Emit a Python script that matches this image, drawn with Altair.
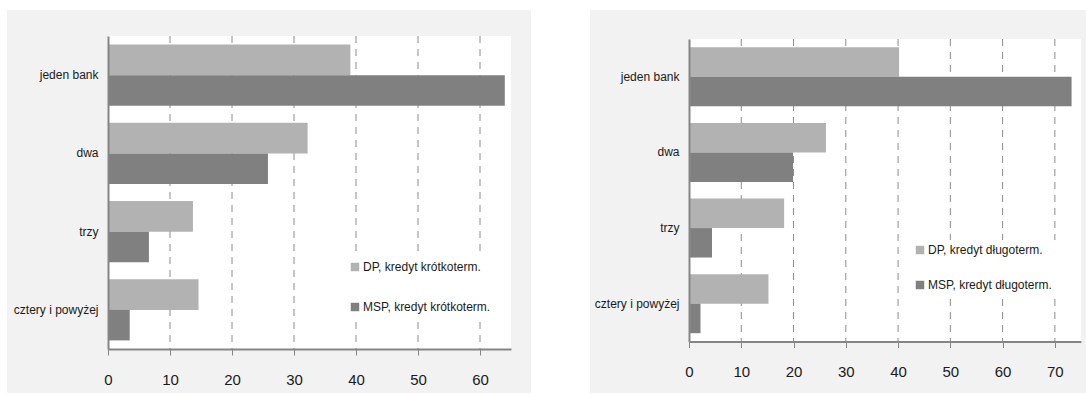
import altair as alt
import pandas as pd

categories = ["jeden bank", "dwa", "trzy", "cztery i powyżej"]

left_series = ["DP, kredyt krótkoterm.", "MSP, kredyt krótkoterm."]
left_dp = [39.1, 32.2, 13.7, 14.6]
left_msp = [64.0, 25.8, 6.6, 3.5]
left_ticks = [0, 10, 20, 30, 40, 50, 60]

right_series = ["DP, kredyt długoterm.", "MSP, kredyt długoterm."]
right_dp = [40.2, 26.2, 18.2, 15.2]
right_msp = [73.2, 19.9, 4.4, 2.2]
right_ticks = [0, 10, 20, 30, 40, 50, 60, 70]

colors = ["#b2b2b2", "#808080"]
FONT = "Liberation Sans, Arial, sans-serif"
TEXT = "#1a1a1a"
GRAY_BG = "#f2f2f2"
AXIS_GRAY = "#858585"


def panel(series, dp, msp, xmax, ticks, W, H, top, frame, legx, legy, rowpad):
    rows = []
    for c, a, b in zip(categories, dp, msp):
        rows.append({"category": c, "series": series[0], "value": a})
        rows.append({"category": c, "series": series[1], "value": b})
    df = pd.DataFrame(rows)

    xscale = alt.Scale(domain=[0, xmax], nice=False, zero=True)
    xaxis = alt.Axis(
        values=ticks,
        format="d",
        labelFont=FONT,
        labelFontSize=15,
        labelColor=TEXT,
        labelPadding=17,
        labelFlush=False,
        tickSize=6,
        tickColor=AXIS_GRAY,
        tickWidth=1,
        domainColor=AXIS_GRAY,
        domainWidth=2,
        grid=False,
        zindex=1,
    )

    bars = alt.Chart(df).mark_bar().encode(
        y=alt.Y(
            "category:N",
            sort=categories,
            title=None,
            scale=alt.Scale(paddingInner=0.22, paddingOuter=0.11, range=[top, H]),
            axis=alt.Axis(
                ticks=False,
                labelFont=FONT,
                labelFontSize=12,
                labelColor=TEXT,
                labelPadding=10,
                labelLimit=200,
                domainColor=AXIS_GRAY,
                domainWidth=2,
                grid=False,
                zindex=1,
            ),
        ),
        yOffset=alt.YOffset(
            "series:N", sort=series, scale=alt.Scale(paddingInner=0, paddingOuter=0)
        ),
        x=alt.X("value:Q", title=None, scale=xscale, axis=xaxis),
        color=alt.Color(
            "series:N",
            sort=series,
            scale=alt.Scale(domain=series, range=colors),
            legend=alt.Legend(
                title=None,
                orient="none",
                legendX=legx,
                legendY=legy,
                symbolType="square",
                symbolSize=72,
                symbolStrokeWidth=0,
                labelFont=FONT,
                labelFontSize=12,
                labelColor=TEXT,
                labelOffset=2,
                rowPadding=rowpad,
                fillColor="white",
                padding=4,
                labelLimit=300,
            ),
        ),
    )

    one = pd.DataFrame({"k": [0]})
    fx1, fx2, fy1, fy2 = frame
    gray = alt.Chart(one).mark_rect(color=GRAY_BG).encode(
        x=alt.value(fx1), x2=alt.value(fx2), y=alt.value(fy1), y2=alt.value(fy2)
    )
    white = alt.Chart(one).mark_rect(color="white").encode(
        x=alt.value(0), x2=alt.value(W), y=alt.value(top), y2=alt.value(H)
    )
    grid = alt.Chart(pd.DataFrame({"value": ticks[1:]})).mark_rule(
        color="#8c8c8c", strokeDash=[7, 6], strokeWidth=1
    ).encode(
        x=alt.X("value:Q", title=None, scale=xscale, axis=xaxis),
        y=alt.value(top),
        y2=alt.value(H),
    )
    return alt.layer(gray, white, grid, bars).properties(width=W, height=H)


# left panel plot area: x 108..511, y 36..349 ; gray frame x 7..531, y 10..393
left = panel(
    left_series, left_dp, left_msp, 65, left_ticks, 403, 313, 0,
    (-101, 423, -26, 357),
    237, 221, 28,
)

# right panel plot area: x 689..1081, y 39..341.5 ; gray frame x 590..1086, y 10..393
right = panel(
    right_series, right_dp, right_msp, 75, right_ticks, 392, 305.5, 3,
    (-99, 397, -26, 357),
    221, 204, 23,
)

chart = (
    alt.hconcat(left, right, spacing=178, bounds="flush")
    .resolve_scale(
        color="independent", x="independent", y="independent", yOffset="independent"
    )
    .properties(
        padding={"left": 7, "top": 10, "right": 0, "bottom": 1},
        background="white",
    )
    .configure_view(fill=None, stroke=None)
)

chart.save("out.html", embed_options={"renderer": "svg", "actions": False})
